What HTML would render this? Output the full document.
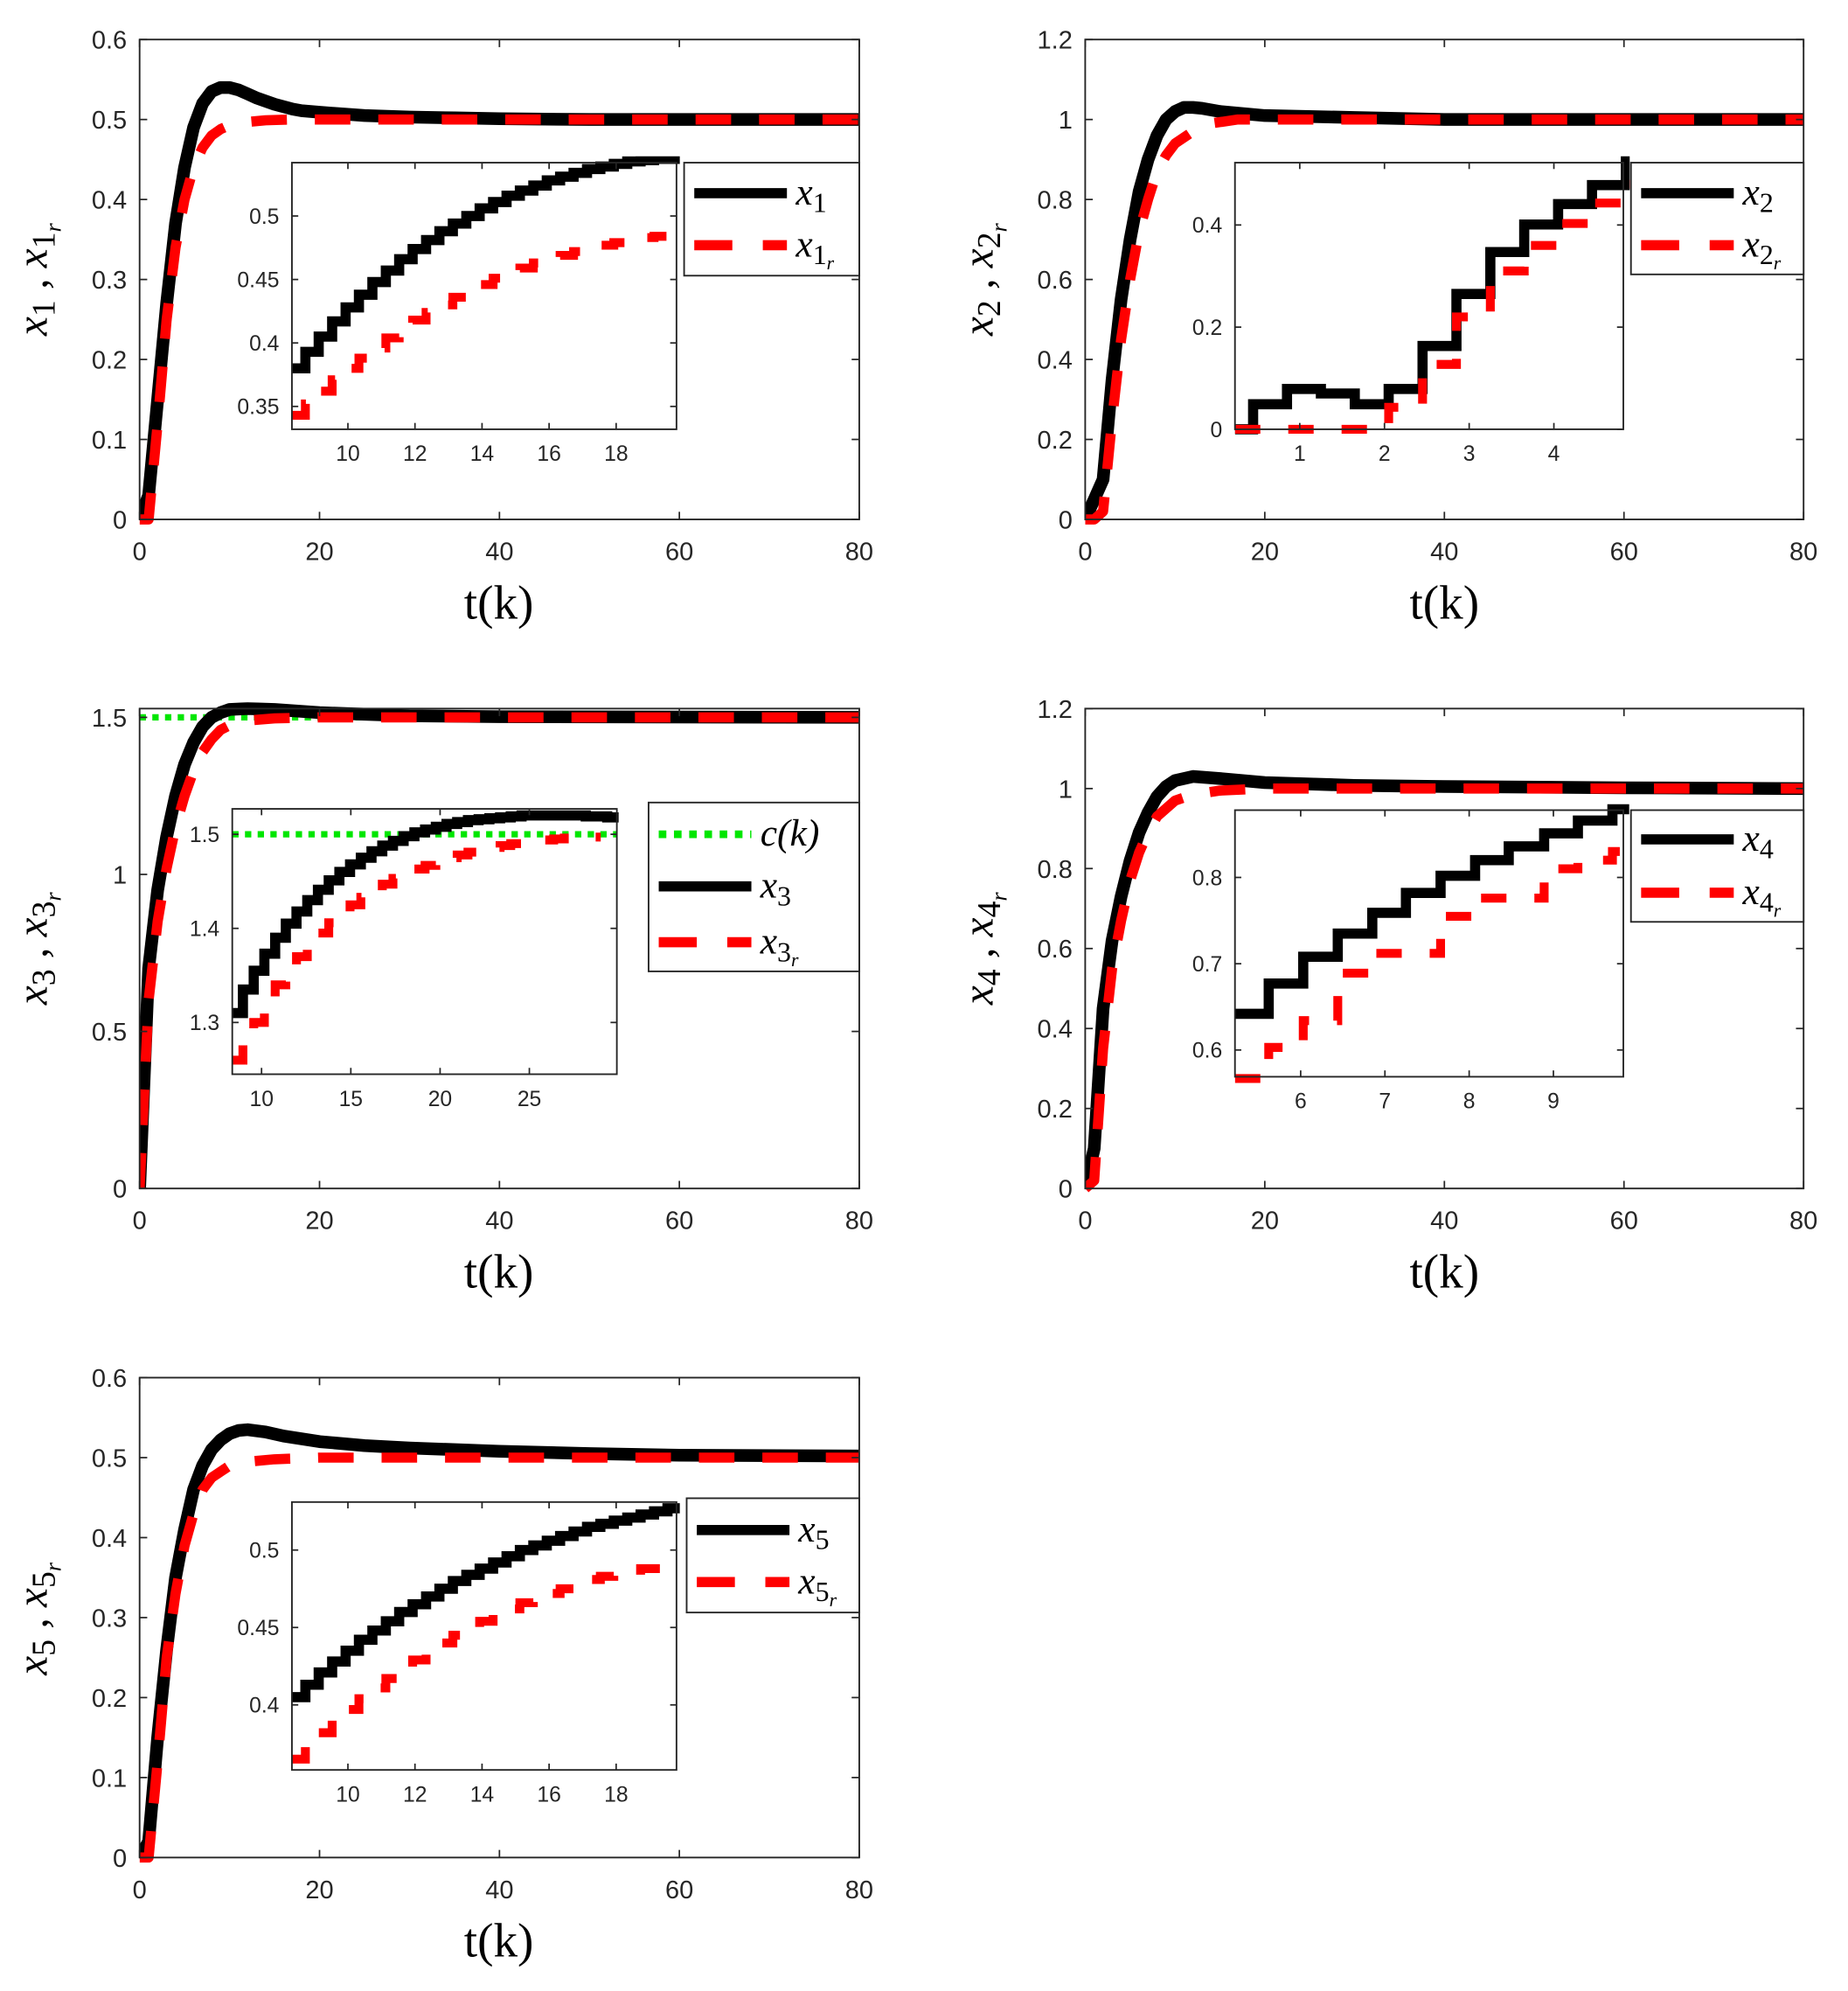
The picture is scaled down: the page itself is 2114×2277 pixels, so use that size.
<!DOCTYPE html>
<html><head><meta charset="utf-8"><style>
html,body{margin:0;padding:0;background:#fff}
svg{display:block}
</style></head><body>
<svg id="fig" xmlns="http://www.w3.org/2000/svg" width="2114" height="2277" viewBox="0 0 1456 1568">
<rect x="0" y="0" width="1456" height="1568" fill="#fff"/>
</svg>
<script>
// ===== data =====
const x1T=[0,1,2,3,4,5,6,7,8,9,10,11,12,13,14,15,16,17,18,19,20,25,30,35,40,50,60,80];
const x1V=[0,0.03,0.15,0.27,0.37,0.44,0.49,0.52,0.535,0.54,0.54,0.537,0.532,0.527,0.523,0.519,0.516,0.513,0.511,0.51,0.509,0.505,0.503,0.502,0.501,0.5,0.5,0.5];
const x1rT=[0,1,2,3,4,5,6,7,8,9,10,12,14,17,20,80];
const x1rV=[0,0,0.12,0.25,0.34,0.4,0.44,0.465,0.48,0.488,0.493,0.497,0.499,0.5,0.5,0.5];
const in1B=[0.38,0.393,0.405,0.417,0.428,0.438,0.448,0.457,0.466,0.474,0.481,0.488,0.494,0.5,0.506,0.511,0.516,0.52,0.524,0.528,0.531,0.534,0.537,0.539,0.541,0.543,0.544,0.545,0.545];
const in1R=[0.343,0.352,0.362,0.371,0.38,0.388,0.396,0.404,0.411,0.418,0.424,0.43,0.436,0.441,0.446,0.451,0.455,0.459,0.463,0.466,0.469,0.472,0.475,0.477,0.479,0.481,0.483,0.484];

const x2T=[0,1,2,3,4,5,6,7,8,9,10,11,12,13,15,20,30,40,80];
const x2V=[0,0.05,0.1,0.35,0.55,0.7,0.82,0.9,0.96,1.0,1.02,1.03,1.03,1.028,1.02,1.01,1.005,1.0,1.0];
const x2rT=[0,1,2,3,4,5,6,7,8,9,10,12,14,17,80];
const x2rV=[0,0,0.02,0.25,0.45,0.6,0.72,0.8,0.87,0.91,0.94,0.97,0.99,1.0,1.0];
const in2BT=[0.235,0.45,0.85,1.25,1.65,2.05,2.45,2.85,3.25,3.65,4.05,4.45,4.85];
const in2BV=[0,0.049,0.079,0.07,0.049,0.079,0.163,0.265,0.347,0.401,0.441,0.478,0.53];
const in2RT=[0.235,2.05,2.45,2.85,3.25,3.65,4.05,4.45,4.85];
const in2RV=[0,0.043,0.127,0.22,0.31,0.36,0.403,0.443,0.48];

const x3T=[0,1,2,3,4,5,6,7,8,9,10,12,15,20,30,40,80];
const x3V=[0,0.7,0.95,1.12,1.25,1.35,1.42,1.47,1.5,1.515,1.525,1.528,1.525,1.515,1.505,1.502,1.5];
const x3rT=[0,1,2,3,4,5,6,7,8,9,10,12,15,20,80];
const x3rV=[0,0.6,0.85,1.02,1.15,1.25,1.33,1.39,1.43,1.46,1.475,1.49,1.497,1.5,1.5];
const ckV=1.5;
const in3B=[1.31,1.335,1.355,1.373,1.39,1.405,1.418,1.43,1.441,1.451,1.46,1.468,1.475,1.482,1.488,1.493,1.498,1.502,1.505,1.508,1.511,1.513,1.515,1.516,1.517,1.518,1.519,1.52,1.52,1.52,1.52,1.52,1.52,1.519,1.519,1.518];
const in3R=[1.26,1.28,1.3,1.32,1.34,1.355,1.37,1.383,1.395,1.406,1.416,1.425,1.433,1.44,1.447,1.453,1.458,1.463,1.467,1.471,1.475,1.478,1.481,1.484,1.486,1.488,1.49,1.492,1.493,1.494,1.495,1.496,1.497,1.497];

const x4T=[0,1,2,3,4,5,6,7,8,9,10,12,15,20,30,40,60,80];
const x4V=[0,0.1,0.45,0.62,0.73,0.82,0.89,0.94,0.98,1.005,1.02,1.03,1.025,1.015,1.008,1.005,1.002,1.0];
const x4rT=[0,1,2,3,4,5,6,7,8,10,12,15,20,80];
const x4rV=[0,0.02,0.35,0.55,0.67,0.77,0.84,0.89,0.93,0.97,0.985,0.995,1.0,1.0];
const in4BT=[5.22,5.62,6.03,6.44,6.85,7.25,7.66,8.07,8.47,8.89,9.29,9.7];
const in4BV=[0.642,0.677,0.708,0.735,0.759,0.782,0.802,0.82,0.836,0.851,0.866,0.879];
const in4RT=[5.22,5.62,6.03,6.44,6.85,7.66,8.07,8.89,9.29,9.7];
const in4RV=[0.567,0.603,0.634,0.689,0.712,0.755,0.776,0.81,0.82,0.83];

const x5T=[0,1,2,3,4,5,6,7,8,9,10,11,12,14,16,20,25,30,40,50,60,80];
const x5V=[0,0.02,0.15,0.26,0.35,0.41,0.46,0.49,0.51,0.522,0.53,0.534,0.535,0.532,0.527,0.52,0.515,0.512,0.508,0.505,0.503,0.502];
const x5rT=[0,1,2,3,4,5,6,7,8,10,12,15,20,80];
const x5rV=[0,0,0.12,0.25,0.33,0.39,0.43,0.46,0.475,0.49,0.495,0.498,0.5,0.5];
const in5B=[0.405,0.413,0.421,0.428,0.435,0.442,0.448,0.454,0.46,0.465,0.47,0.475,0.48,0.484,0.488,0.492,0.496,0.5,0.503,0.506,0.509,0.512,0.515,0.517,0.519,0.521,0.523,0.525,0.527];
const in5R=[0.365,0.374,0.382,0.39,0.397,0.404,0.411,0.417,0.423,0.429,0.435,0.44,0.445,0.45,0.454,0.458,0.462,0.466,0.469,0.472,0.475,0.478,0.481,0.483,0.485,0.487,0.488];

const mainXTicks=[0,20,40,60,80];
const yT1=[0,0.1,0.2,0.3,0.4,0.5,0.6];
const yT2=[0,0.2,0.4,0.6,0.8,1,1.2];
const yT3=[0,0.5,1,1.5];

// ===== drawing =====
const NS='http://www.w3.org/2000/svg';
const svg=document.getElementById('fig');
let clipN=0;
function mk(tag,attrs,parent){const e=document.createElementNS(NS,tag);for(const k in attrs)e.setAttribute(k,attrs[k]);(parent||svg).appendChild(e);return e;}
function fmt(v){return String(+v.toFixed(3));}

function axes(name,b,xl,yl,xt,yt,fs,tl,xoff){
  const g=mk('g',{});
  
  
  const sx=v=>b[0]+(v-xl[0])/(xl[1]-xl[0])*(b[2]-b[0]);
  const sy=v=>b[3]-(v-yl[0])/(yl[1]-yl[0])*(b[3]-b[1]);
  mk('rect',{x:b[0],y:b[1],width:b[2]-b[0],height:b[3]-b[1],fill:'#fff',stroke:'none'},g);
  const id='c'+(clipN++);
  const cp=mk('clipPath',{id:id},g);
  mk('rect',{x:b[0],y:b[1]-5,width:b[2]-b[0]+5,height:b[3]-b[1]+10},cp);
  const plot=mk('g',{'clip-path':'url(#'+id+')'},g);
  const over=mk('g',{},g);
  xt.forEach(v=>{
    const x=sx(v);
    mk('line',{x1:x,y1:b[3],x2:x,y2:b[3]-tl,stroke:'#262626','stroke-width':1.2},over);
    mk('line',{x1:x,y1:b[1],x2:x,y2:b[1]+tl,stroke:'#262626','stroke-width':1.2},over);
    const t=mk('text',{x:x,y:b[3]+fs+xoff,'text-anchor':'middle','font-size':fs,fill:'#262626','font-family':'Liberation Sans, sans-serif'},g);
    t.textContent=fmt(v);
    
    
  });
  yt.forEach(v=>{
    const y=sy(v);
    mk('line',{x1:b[0],y1:y,x2:b[0]+tl,y2:y,stroke:'#262626','stroke-width':1.2},over);
    mk('line',{x1:b[2],y1:y,x2:b[2]-tl,y2:y,stroke:'#262626','stroke-width':1.2},over);
    const t=mk('text',{x:b[0]-10,y:y+fs*0.36,'text-anchor':'end','font-size':fs,fill:'#262626','font-family':'Liberation Sans, sans-serif'},g);
    t.textContent=fmt(v);
    
    
  });
  mk('rect',{x:b[0],y:b[1],width:b[2]-b[0],height:b[3]-b[1],fill:'none',stroke:'#262626','stroke-width':1.3},over);
  return {sx,sy,plot,g};
}
function line(ax,T,V,style,name){
  const pts=T.map((t,i)=>ax.sx(t).toFixed(1)+','+ax.sy(V[i]).toFixed(1)).join(' ');
  const p=mk('polyline',Object.assign({points:pts,fill:'none','stroke-linejoin':'round'},style),ax.plot);
  
  
}
function stairs(ax,T,V,tEnd,style,name){
  let d='';
  for(let i=0;i<V.length;i++){
    const t0=T[i],t1=(i+1<T.length)?T[i+1]:tEnd;
    const y=ax.sy(V[i]).toFixed(1);
    d+=(i===0?'M':'L')+ax.sx(t0).toFixed(1)+','+y+' L'+ax.sx(t1).toFixed(1)+','+y+' ';
  }
  const p=mk('path',Object.assign({d:d,fill:'none','stroke-linejoin':'miter'},style),ax.plot);
  
  
}
function regT(t0,dt,n){const a=[];for(let i=0;i<n;i++)a.push(t0+i*dt);return a;}

const BLK={stroke:'#000','stroke-width':10};
const RED={stroke:'#ff0000','stroke-width':8,'stroke-dasharray':'28 22'};
const BLKi={stroke:'#000','stroke-width':8};
const REDi={stroke:'#ff0000','stroke-width':7,'stroke-dasharray':'20 22'};
const GRN={stroke:'#00e600','stroke-width':5,'stroke-dasharray':'5 5'};

function xlabel(cx,y){
  const t=mk('text',{x:cx,y:y,'text-anchor':'middle','font-size':38,'font-family':'Liberation Serif, serif',fill:'#000'});
  t.textContent='t(k)';
  
  
}
function ylabel(cx,cy,n){
  const t=mk('text',{x:0,y:0,'text-anchor':'middle','font-size':34,'font-family':'Liberation Serif, serif','font-style':'italic',fill:'#000',transform:'translate('+cx+','+cy+') rotate(-90)'});
  t.innerHTML='x<tspan font-style="normal" font-size="26" dy="6">'+n+'</tspan><tspan dy="-6"> , x</tspan><tspan font-style="normal" font-size="26" dy="6">'+n+'</tspan><tspan font-size="18" dy="5">r</tspan>';
  
  
}
function legend(x0,y0,x1,y1,entries){
  const g=mk('g',{});
  
  
  mk('rect',{x:x0,y:y0,width:x1-x0,height:y1-y0,fill:'#fff',stroke:'#262626','stroke-width':1.3},g);
  entries.forEach(e=>{
    const ln=mk('line',Object.assign({x1:x0+8,y1:e.y,x2:x0+81,y2:e.y},e.style),g);
    
    
    const t=mk('text',{x:x0+88,y:e.y+9,'font-size':30,'font-family':'Liberation Serif, serif','font-style':'italic',fill:'#000'},g);
    t.innerHTML=e.html;
    
    
  });
}
const LB={stroke:'#000','stroke-width':8};
const LR={stroke:'#ff0000','stroke-width':8,'stroke-dasharray':'30 24'};
const LG={stroke:'#00e600','stroke-width':6,'stroke-dasharray':'6 6'};
function sub(n,r){return 'x<tspan font-style="normal" font-size="22" dy="6">'+n+'</tspan>'+(r?'<tspan font-size="15" dy="4">r</tspan>':'');}

// Panel 1
let a=axes('panel-x1',[110,31,677,409],[0,80],[0,0.6],mainXTicks,yT1,20,6,12);
line(a,x1T,x1V,BLK,'x1-line');
line(a,x1rT,x1rV,RED,'x1r-line');
let ia=axes('inset-x1',[230,128,533,338],[8.33,19.8],[0.332,0.542],[10,12,14,16,18],[0.35,0.4,0.45,0.5],17,5,8);
stairs(ia,regT(8.33,0.4,in1B.length),in1B,19.9,BLKi,'inset-x1-line');
stairs(ia,regT(8.33,0.4,in1R.length),in1R,19.5,REDi,'inset-x1r-line');
legend(539,128,677,217,[{y:152,style:LB,html:sub(1,false)},{y:193,style:LR,html:sub(1,true)}]);
xlabel(393,487); ylabel(37,220,1);

// Panel 2
a=axes('panel-x2',[855,31,1421,409],[0,80],[0,1.2],mainXTicks,yT2,20,6,12);
line(a,x2T,x2V,BLK,'x2-line');
line(a,x2rT,x2rV,RED,'x2r-line');
ia=axes('inset-x2',[973,128,1279,338],[0.235,4.82],[0,0.522],[1,2,3,4],[0,0.2,0.4],17,5,8);
stairs(ia,in2BT,in2BV,4.9,BLKi,'inset-x2-line');
stairs(ia,in2RT,in2RV,4.9,REDi,'inset-x2r-line');
legend(1285,128,1421,216,[{y:152,style:LB,html:sub(2,false)},{y:193,style:LR,html:sub(2,true)}]);
xlabel(1138,487); ylabel(782,220,2);

// Panel 3
a=axes('panel-x3',[110,558,677,936],[0,80],[0,1.528],mainXTicks,yT3,20,6,12);
line(a,[0,80],[ckV,ckV],GRN,'ck-line');
line(a,x3T,x3V,BLK,'x3-line');
line(a,x3rT,x3rV,RED,'x3r-line');
ia=axes('inset-x3',[183,637,486,846],[8.36,29.9],[1.245,1.527],[10,15,20,25],[1.3,1.4,1.5],17,5,8);
line(ia,[8.36,29.9],[ckV,ckV],GRN,'inset-ck-line');
stairs(ia,regT(8.36,0.6,in3B.length),in3B,30,BLKi,'inset-x3-line');
stairs(ia,regT(8.36,0.6,in3R.length),in3R,29,REDi,'inset-x3r-line');
legend(511,632,677,765,[{y:657,style:LG,html:'c(k)'},{y:698,style:LB,html:sub(3,false)},{y:742,style:LR,html:sub(3,true)}]);
xlabel(393,1014); ylabel(37,747,3);

// Panel 4
a=axes('panel-x4',[855,558,1421,936],[0,80],[0,1.2],mainXTicks,yT2,20,6,12);
line(a,x4T,x4V,BLK,'x4-line');
line(a,x4rT,x4rV,RED,'x4r-line');
ia=axes('inset-x4',[973,638,1279,848],[5.22,9.83],[0.569,0.878],[6,7,8,9],[0.6,0.7,0.8],17,5,8);
stairs(ia,in4BT,in4BV,9.9,BLKi,'inset-x4-line');
stairs(ia,in4RT,in4RV,9.9,REDi,'inset-x4r-line');
legend(1285,638,1421,726,[{y:661,style:LB,html:sub(4,false)},{y:703,style:LR,html:sub(4,true)}]);
xlabel(1138,1014); ylabel(782,747,4);

// Panel 5
a=axes('panel-x5',[110,1085,677,1463],[0,80],[0,0.6],mainXTicks,yT1,20,6,12);
line(a,x5T,x5V,BLK,'x5-line');
line(a,x5rT,x5rV,RED,'x5r-line');
ia=axes('inset-x5',[230,1183,533,1394],[8.33,19.8],[0.358,0.531],[10,12,14,16,18],[0.4,0.45,0.5],17,5,8);
stairs(ia,regT(8.33,0.4,in5B.length),in5B,19.9,BLKi,'inset-x5-line');
stairs(ia,regT(8.33,0.4,in5R.length),in5R,19.5,REDi,'inset-x5r-line');
legend(541,1180,677,1270,[{y:1205,style:LB,html:sub(5,false)},{y:1246,style:LR,html:sub(5,true)}]);
xlabel(393,1541); ylabel(37,1275,5);
</script>
</body></html>
